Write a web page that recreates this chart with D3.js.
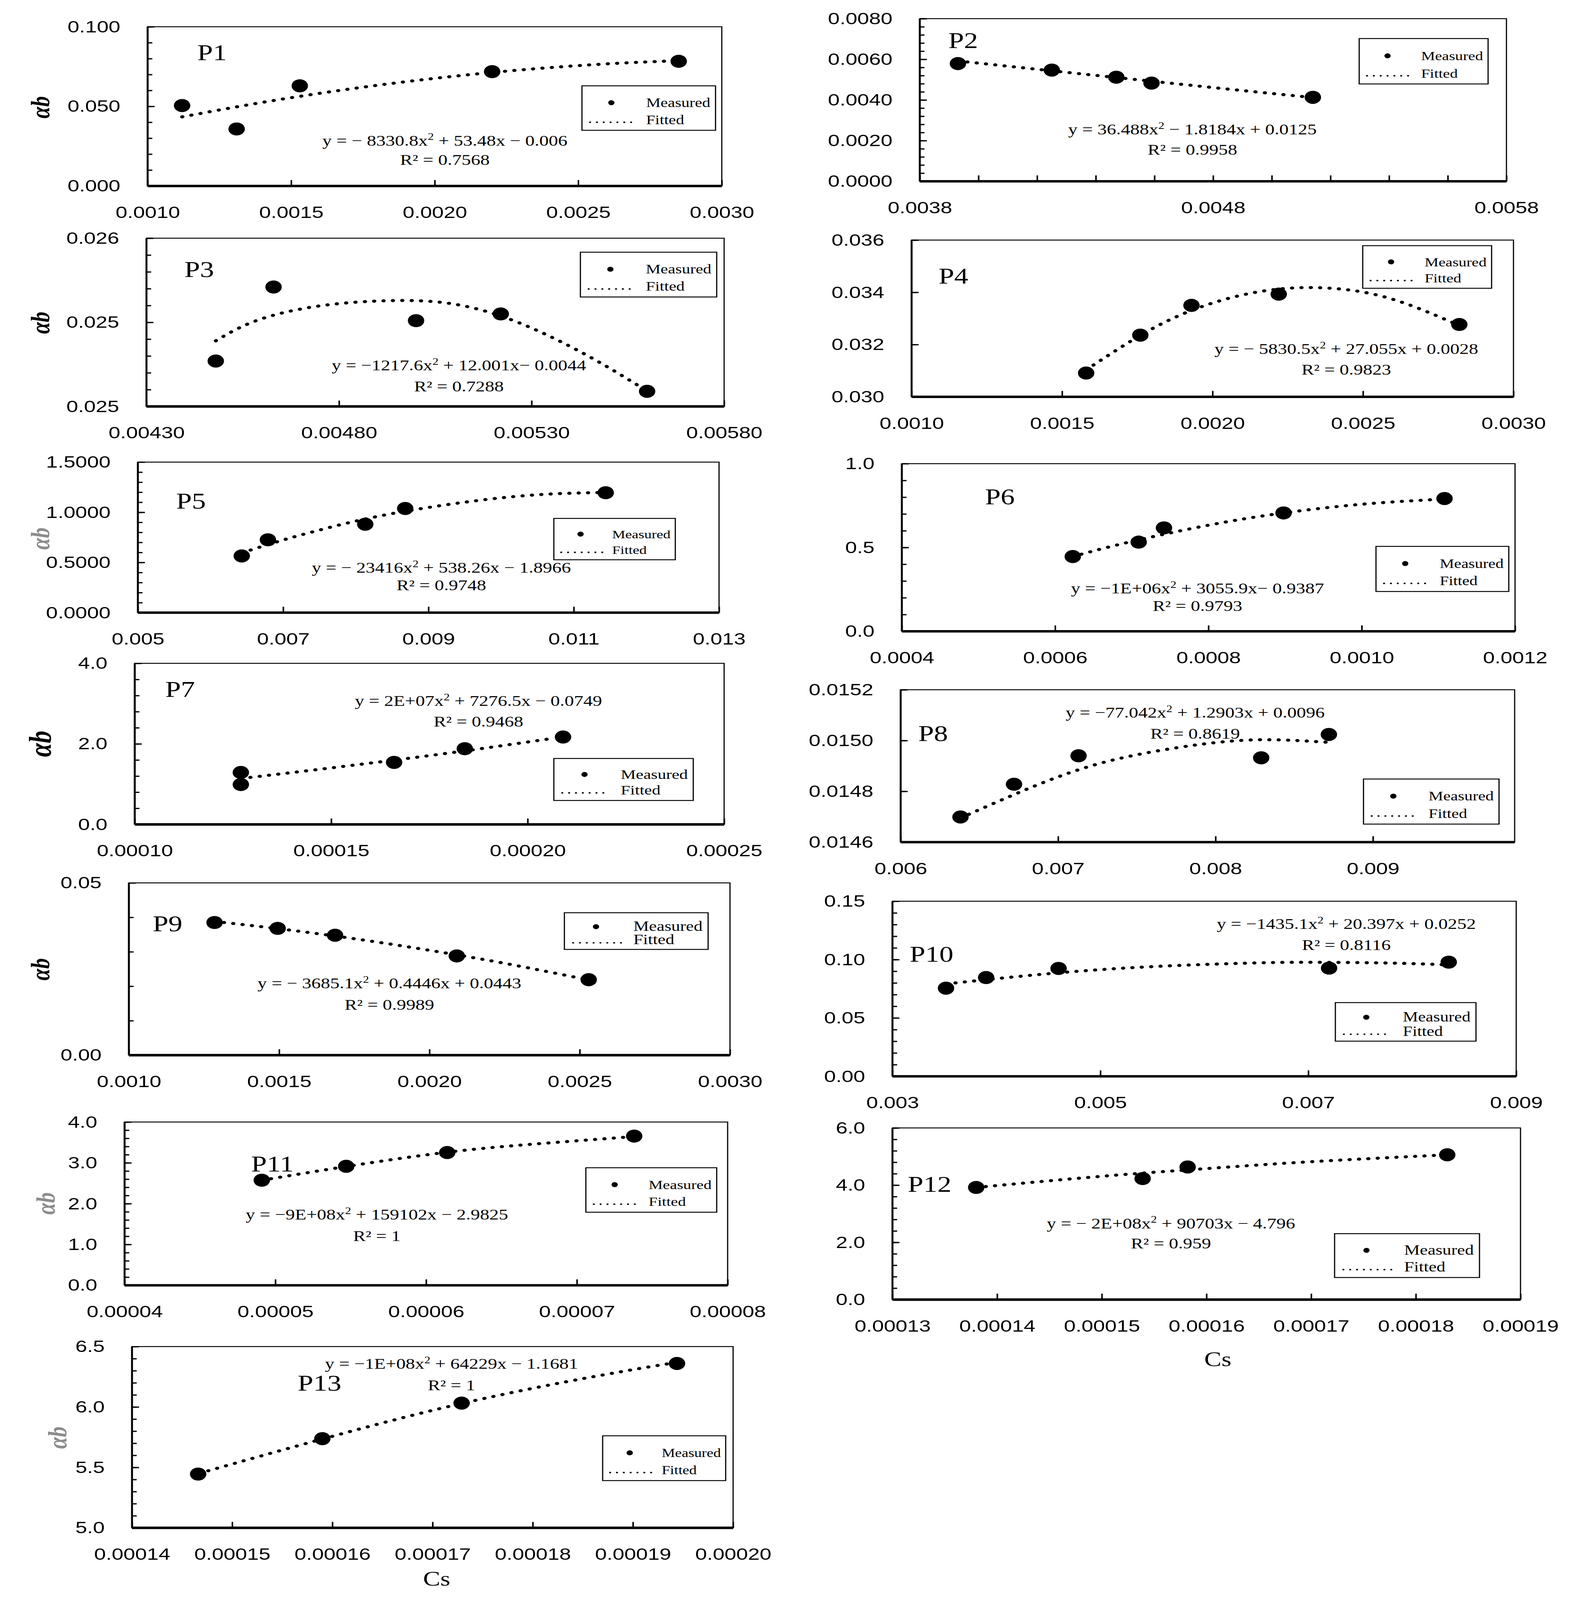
<!DOCTYPE html>
<html>
<head>
<meta charset="utf-8">
<script src="https://cdn.jsdelivr.net/npm/d3@7"></script>
<style>
  html, body { margin: 0; padding: 0; background: #fff; overflow: hidden; }
  svg { display: block; }
</style>
</head>
<body>
<div id="chart"></div>
<script>
'use strict';

// panel names, in reading order
var panelNames = ['P1', 'P2', 'P3', 'P4', 'P5', 'P6', 'P7', 'P8', 'P9', 'P10', 'P11', 'P12', 'P13'];

// measured points (Cs, alpha b)
var measuredX = [
  [0.00112, 0.00131, 0.00153, 0.00220, 0.00285],
  [0.00393, 0.00425, 0.00447, 0.00459, 0.00514],
  [0.00448, 0.00463, 0.00500, 0.00522, 0.00560],
  [0.00158, 0.00176, 0.00193, 0.00222, 0.00282],
  [0.00643, 0.00679, 0.00813, 0.00868, 0.01144],
  [0.000623, 0.000709, 0.000742, 0.000898, 0.001108],
  [0.000127, 0.000127, 0.000166, 0.000184, 0.000209],
  [0.00638, 0.00672, 0.00713, 0.00829, 0.00872],
  [0.001285, 0.001495, 0.001686, 0.002091, 0.00253],
  [0.003515, 0.003901, 0.004598, 0.0072, 0.008351],
  [0.0000491, 0.0000547, 0.0000614, 0.0000738],
  [0.000138, 0.0001539, 0.0001582, 0.000183],
  [0.0001466, 0.000159, 0.0001729, 0.0001944]
];
var measuredY = [
  [0.0505, 0.0358, 0.0629, 0.0718, 0.0783],
  [0.00579, 0.00547, 0.00512, 0.00483, 0.00413],
  [0.02487, 0.02531, 0.02511, 0.02515, 0.02469],
  [0.03091, 0.03236, 0.03350, 0.03393, 0.03277],
  [0.565, 0.726, 0.881, 1.038, 1.195],
  [0.446, 0.532, 0.617, 0.706, 0.792],
  [1.29, 0.99, 1.54, 1.88, 2.17],
  [0.014699, 0.014828, 0.01494, 0.014932, 0.015024],
  [0.0385, 0.0368, 0.0348, 0.0288, 0.0219],
  [0.0755, 0.0846, 0.0924, 0.0927, 0.0978],
  [2.574, 2.915, 3.252, 3.655],
  [3.92, 4.23, 4.634, 5.061],
  [5.445, 5.738, 6.032, 6.36]
];

// fitted (trend) curves
var fittedX = [
  [0.00112, 0.0014, 0.0017, 0.0020, 0.0023, 0.0026, 0.00285],
  [0.00393, 0.0042, 0.0045, 0.0048, 0.00514],
  [0.00448, 0.00459, 0.004757, 0.004937, 0.005079, 0.005208, 0.005336, 0.005465, 0.00558],
  [0.00158, 0.0018, 0.0020, 0.0022, 0.0024, 0.0026, 0.00282],
  [0.00643, 0.0070, 0.0075, 0.0085, 0.0100, 0.0110, 0.01144],
  [0.000634, 0.0007, 0.0008, 0.000898, 0.001, 0.001096],
  [0.0001294, 0.000148, 0.0001663, 0.0001843, 0.0002062],
  [0.00638, 0.0070, 0.0075, 0.0080, 0.00837, 0.00872],
  [0.001285, 0.0015, 0.0018, 0.0021, 0.0023, 0.00253],
  [0.003515, 0.0045, 0.0055, 0.0065, 0.0071, 0.0078, 0.008351],
  [0.0000497, 0.0000547, 0.0000614, 0.0000675, 0.0000733],
  [0.000138, 0.00015, 0.00016, 0.00017, 0.000183],
  [0.0001476, 0.000159, 0.0001729, 0.0001862, 0.0001937]
];
var fittedY = [
  [0.0434, 0.0525, 0.0608, 0.0676, 0.0729, 0.0767, 0.0787],
  [0.00592, 0.00551, 0.00506, 0.00461, 0.00412],
  [0.02499, 0.025114, 0.0252, 0.025229, 0.025215, 0.025147, 0.025029, 0.024877, 0.02472],
  [0.03103, 0.03261, 0.03359, 0.03410, 0.03415, 0.03373, 0.03273],
  [0.596, 0.724, 0.823, 0.987, 1.144, 1.191, 1.197],
  [0.46, 0.536, 0.633, 0.706, 0.758, 0.786],
  [1.167, 1.38, 1.60, 1.83, 2.133],
  [0.014695, 0.014857, 0.014944, 0.014992, 0.015003, 0.014993],
  [0.03879, 0.03668, 0.03316, 0.02898, 0.02583, 0.02184],
  [0.07916, 0.08793, 0.09397, 0.09715, 0.09768, 0.09699, 0.09545],
  [2.61, 2.91, 3.26, 3.47, 3.63],
  [3.92, 4.31, 4.58, 4.82, 5.06],
  [5.472, 5.735, 6.029, 6.253, 6.36]
];

// trendline equations: text before and after the squared term
var equationParts = [
  ['y = \u2212 8330.8x', ' + 53.48x \u2212 0.006'],
  ['y = 36.488x', ' \u2212 1.8184x + 0.0125'],
  ['y = \u22121217.6x', ' + 12.001x\u2212 0.0044'],
  ['y = \u2212 5830.5x', ' + 27.055x + 0.0028'],
  ['y = \u2212 23416x', ' + 538.26x \u2212 1.8966'],
  ['y = \u22121E+06x', ' + 3055.9x\u2212 0.9387'],
  ['y = 2E+07x', ' + 7276.5x \u2212 0.0749'],
  ['y = \u221277.042x', ' + 1.2903x + 0.0096'],
  ['y = \u2212 3685.1x', ' + 0.4446x + 0.0443'],
  ['y = \u22121435.1x', ' + 20.397x + 0.0252'],
  ['y = \u22129E+08x', ' + 159102x \u2212 2.9825'],
  ['y = \u2212 2E+08x', ' + 90703x \u2212 4.796'],
  ['y = \u22121E+08x', ' + 64229x \u2212 1.1681']
];
var r2Labels = ['R\u00b2 = 0.7568', 'R\u00b2 = 0.9958', 'R\u00b2 = 0.7288', 'R\u00b2 = 0.9823', 'R\u00b2 = 0.9748',
  'R\u00b2 = 0.9793', 'R\u00b2 = 0.9468', 'R\u00b2 = 0.8619', 'R\u00b2 = 0.9989', 'R\u00b2 = 0.8116',
  'R\u00b2 = 1', 'R\u00b2 = 0.959', 'R\u00b2 = 1'];

// labelled ticks
var xLabelValues = [
  [0.0010, 0.0015, 0.0020, 0.0025, 0.0030],
  [0.0038, 0.0048, 0.0058],
  [0.0043, 0.0048, 0.0053, 0.0058],
  [0.0010, 0.0015, 0.0020, 0.0025, 0.0030],
  [0.005, 0.007, 0.009, 0.011, 0.013],
  [0.0004, 0.0006, 0.0008, 0.0010, 0.0012],
  [0.00010, 0.00015, 0.00020, 0.00025],
  [0.006, 0.007, 0.008, 0.009],
  [0.0010, 0.0015, 0.0020, 0.0025, 0.0030],
  [0.003, 0.005, 0.007, 0.009],
  [0.00004, 0.00005, 0.00006, 0.00007, 0.00008],
  [0.00013, 0.00014, 0.00015, 0.00016, 0.00017, 0.00018, 0.00019],
  [0.00014, 0.00015, 0.00016, 0.00017, 0.00018, 0.00019, 0.00020]
];
var xLabels = [
  ['0.0010', '0.0015', '0.0020', '0.0025', '0.0030'],
  ['0.0038', '0.0048', '0.0058'],
  ['0.00430', '0.00480', '0.00530', '0.00580'],
  ['0.0010', '0.0015', '0.0020', '0.0025', '0.0030'],
  ['0.005', '0.007', '0.009', '0.011', '0.013'],
  ['0.0004', '0.0006', '0.0008', '0.0010', '0.0012'],
  ['0.00010', '0.00015', '0.00020', '0.00025'],
  ['0.006', '0.007', '0.008', '0.009'],
  ['0.0010', '0.0015', '0.0020', '0.0025', '0.0030'],
  ['0.003', '0.005', '0.007', '0.009'],
  ['0.00004', '0.00005', '0.00006', '0.00007', '0.00008'],
  ['0.00013', '0.00014', '0.00015', '0.00016', '0.00017', '0.00018', '0.00019'],
  ['0.00014', '0.00015', '0.00016', '0.00017', '0.00018', '0.00019', '0.00020']
];
var yLabelValues = [
  [0, 0.05, 0.1],
  [0, 0.002, 0.004, 0.006, 0.008],
  [0.0246, 0.0251, 0.0256],
  [0.030, 0.032, 0.034, 0.036],
  [0, 0.5, 1.0, 1.5],
  [0, 0.5, 1.0],
  [0, 2, 4],
  [0.0146, 0.0148, 0.0150, 0.0152],
  [0, 0.05],
  [0, 0.05, 0.10, 0.15],
  [0, 1, 2, 3, 4],
  [0, 2, 4, 6],
  [5.0, 5.5, 6.0, 6.5]
];
var yLabels = [
  ['0.000', '0.050', '0.100'],
  ['0.0000', '0.0020', '0.0040', '0.0060', '0.0080'],
  ['0.025', '0.025', '0.026'],
  ['0.030', '0.032', '0.034', '0.036'],
  ['0.0000', '0.5000', '1.0000', '1.5000'],
  ['0.0', '0.5', '1.0'],
  ['0.0', '2.0', '4.0'],
  ['0.0146', '0.0148', '0.0150', '0.0152'],
  ['0.00', '0.05'],
  ['0.00', '0.05', '0.10', '0.15'],
  ['0.0', '1.0', '2.0', '3.0', '4.0'],
  ['0.0', '2.0', '4.0', '6.0'],
  ['5.0', '5.5', '6.0', '6.5']
];

// layout: frame [left, top, right, bottom], domains, tick-mark steps, legend box,
// title anchor, equation anchor [cx, baseline, r2 baseline], y title [cx, cy, colour, size]
var layout = [
  {frame: [378, 86, 1848, 598], xDom: [0.001, 0.003], yDom: [0, 0.1], xStep: 0.0005, yStep: 0.01,
    legend: [1490, 276, 342, 143], title: [505, 193], eq: [1139, 468, 530], yTitle: [102, 345, '#000', 68]},
  {frame: [2355, 60, 3857, 583], xDom: [0.0038, 0.0058], yDom: [0, 0.008], xStep: 0.0002, yStep: 0.0004,
    legend: [3480, 124, 330, 146], title: [2428, 155], eq: [3053, 432, 498]},
  {frame: [375, 766, 1854, 1307], xDom: [0.0043, 0.0058], yDom: [0.0246, 0.0256], xStep: 0.0005, yStep: 0.0001,
    legend: [1486, 811, 349, 144], title: [472, 891], eq: [1175, 1191, 1258], yTitle: [102, 1038, '#000', 68]},
  {frame: [2334, 772, 3875, 1276], xDom: [0.001, 0.003], yDom: [0.030, 0.036], xStep: 0.0005, yStep: 0.002,
    legend: [3489, 790, 330, 137], title: [2403, 912], eq: [3447, 1138, 1204]},
  {frame: [353, 1486, 1841, 1970], xDom: [0.005, 0.013], yDom: [0, 1.5], xStep: 0.002, yStep: 0.1,
    legend: [1418, 1667, 311, 133], title: [451, 1636], eq: [1130, 1842, 1898], yTitle: [102, 1732, '#8c8c8c', 68]},
  {frame: [2309, 1491, 3879, 2030], xDom: [0.0004, 0.0012], yDom: [0, 1], xStep: 0.0002, yStep: 0.1,
    legend: [3523, 1757, 340, 145], title: [2522, 1622], eq: [3066, 1908, 1965]},
  {frame: [345, 2133, 1854, 2651], xDom: [0.0001, 0.00025], yDom: [0, 4], xStep: 0.00005, yStep: 0.4,
    legend: [1418, 2439, 357, 135], title: [423, 2241], eq: [1225, 2270, 2336], yTitle: [102, 2392, '#000', 80]},
  {frame: [2306, 2218, 3878, 2708], xDom: [0.006, 0.0099], yDom: [0.0146, 0.0152], xStep: 0.001, yStep: 0.0002,
    legend: [3491, 2505, 347, 145], title: [2351, 2383], eq: [3060, 2308, 2375]},
  {frame: [330, 2839, 1869, 3393], xDom: [0.001, 0.003], yDom: [0, 0.05], xStep: 0.0005, yStep: 0.01,
    legend: [1445, 2935, 368, 118], title: [391, 2995], eq: [997, 3178, 3247], yTitle: [102, 3117, '#000', 68]},
  {frame: [2285, 2898, 3882, 3461], xDom: [0.003, 0.009], yDom: [0, 0.15], xStep: 0.002, yStep: 0.01,
    legend: [3419, 3224, 360, 124], title: [2329, 3093], eq: [3447, 2987, 3055]},
  {frame: [319, 3608, 1863, 4133], xDom: [0.00004, 0.00008], yDom: [0, 4], xStep: 0.00001, yStep: 0.2,
    legend: [1500, 3755, 335, 143], title: [643, 3767], eq: [965, 3922, 3991], yTitle: [116, 3870, '#8c8c8c', 68]},
  {frame: [2285, 3627, 3893, 4179], xDom: [0.00013, 0.00019], yDom: [0, 6], xStep: 0.00001, yStep: 0.4,
    legend: [3417, 3967, 371, 141], title: [2324, 3832], eq: [2998, 3950, 4015], cs: [3118, 4392]},
  {frame: [338, 4330, 1877, 4913], xDom: [0.00014, 0.0002], yDom: [5, 6.5], xStep: 0.00001, yStep: 0.1,
    legend: [1543, 4617, 315, 144], title: [762, 4472], eq: [1156, 4402, 4471], yTitle: [146, 4623, '#8c8c8c', 68],
    cs: [1118, 5099]}
];

var W = 4053, H = 5145;
var serif = '"Liberation Serif", "Times New Roman", serif';
var sans = '"Liberation Sans", Arial, sans-serif';

// the drawing is laid out on a 4053 x 5145 canvas and fills the whole window
var svg = d3.select('#chart').append('svg')
  .attr('viewBox', '0 0 ' + W + ' ' + H)
  .attr('preserveAspectRatio', 'none')
  .style('width', '100vw').style('height', '100vh')
  .style('background', '#fff');

function marks(dom, step) {
  var n = Math.floor((dom[1] - dom[0]) / step + 1e-6);
  return d3.range(n + 1).map(function(k) { return dom[0] + k * step; });
}

panelNames.forEach(function(name, i) {
  var lay = layout[i];
  var f = lay.frame;
  var x = d3.scaleLinear().domain(lay.xDom).range([f[0], f[2]]);
  var y = d3.scaleLinear().domain(lay.yDom).range([f[3], f[1]]);
  var g = svg.append('g').attr('class', 'panel');

  g.append('rect')
    .attr('x', f[0]).attr('y', f[1])
    .attr('width', f[2] - f[0]).attr('height', f[3] - f[1])
    .attr('fill', 'none').attr('stroke', '#000').attr('stroke-width', 3);

  // tick marks (inside)
  var yMinor = g.append('g').attr('transform', 'translate(' + f[0] + ',0)')
    .call(d3.axisLeft(y).tickValues(marks(lay.yDom, lay.yStep)).tickSize(-12).tickFormat(''));
  var xMinor = g.append('g').attr('transform', 'translate(0,' + f[3] + ')')
    .call(d3.axisBottom(x).tickValues(marks(lay.xDom, lay.xStep)).tickSize(-19).tickFormat(''));

  // labelled ticks
  var yAx = g.append('g').attr('transform', 'translate(' + f[0] + ',0)')
    .call(d3.axisLeft(y).tickValues(yLabelValues[i]).tickSize(-18).tickPadding(70)
      .tickFormat(function(d, k) { return yLabels[i][k]; }));
  var xAx = g.append('g').attr('transform', 'translate(0,' + f[3] + ')')
    .call(d3.axisBottom(x).tickValues(xLabelValues[i]).tickSize(0)
      .tickFormat(function(d, k) { return xLabels[i][k]; }));
  xAx.selectAll('text').attr('y', 84).attr('dy', '0.35em');

  [yMinor, xMinor, yAx, xAx].forEach(function(a) {
    a.select('.domain').remove();
    a.selectAll('line').attr('stroke', '#000').attr('stroke-width', 4);
    a.selectAll('text').attr('font-family', sans).attr('font-size', 54).attr('fill', '#000');
  });

  // axis lines
  g.append('line').attr('x1', f[0]).attr('x2', f[0]).attr('y1', f[1]).attr('y2', f[3])
    .attr('stroke', '#000').attr('stroke-width', 5);
  g.append('line').attr('x1', f[0]).attr('x2', f[2]).attr('y1', f[3]).attr('y2', f[3])
    .attr('stroke', '#000').attr('stroke-width', 8);

  // fitted curve
  var line = d3.line()
    .x(function(d) { return x(d[0]); })
    .y(function(d) { return y(d[1]); })
    .curve(d3.curveNatural);
  g.append('path')
    .datum(d3.zip(fittedX[i], fittedY[i]))
    .attr('d', line)
    .attr('fill', 'none').attr('stroke', '#000').attr('stroke-width', 10)
    .attr('stroke-linecap', 'round').attr('stroke-dasharray', '1 23');

  // measured points
  g.selectAll('circle.pt')
    .data(d3.zip(measuredX[i], measuredY[i]))
    .join('circle').attr('class', 'pt')
    .attr('cx', function(d) { return x(d[0]); })
    .attr('cy', function(d) { return y(d[1]); })
    .attr('r', 21).attr('fill', '#000');

  // panel title
  g.append('text').attr('x', lay.title[0]).attr('y', lay.title[1])
    .attr('font-family', serif).attr('font-size', 72).text(name);

  // equation and R2
  var eq = g.append('text').attr('x', lay.eq[0]).attr('y', lay.eq[1])
    .attr('text-anchor', 'middle').attr('font-family', serif).attr('font-size', 48);
  eq.append('tspan').text(equationParts[i][0]);
  eq.append('tspan').attr('dy', -18).attr('font-size', 31).text('2');
  eq.append('tspan').attr('dy', 18).text(equationParts[i][1]);
  g.append('text').attr('x', lay.eq[0]).attr('y', lay.eq[2])
    .attr('text-anchor', 'middle').attr('font-family', serif).attr('font-size', 48)
    .text(r2Labels[i]);

  // legend
  var lg = lay.legend;
  var fs = lg[2] * 0.122;
  var tx = lg[0] + 0.48 * lg[2];
  g.append('rect').attr('x', lg[0]).attr('y', lg[1]).attr('width', lg[2]).attr('height', lg[3])
    .attr('fill', '#fff').attr('stroke', '#000').attr('stroke-width', 3);
  g.append('circle').attr('cx', lg[0] + 0.22 * lg[2]).attr('cy', lg[1] + 0.38 * lg[3]).attr('r', 8).attr('fill', '#000');
  g.append('text').attr('x', tx).attr('y', lg[1] + 0.38 * lg[3] + 14)
    .attr('font-family', serif).attr('font-size', fs).text('Measured');
  g.append('line').attr('x1', lg[0] + 0.06 * lg[2]).attr('x2', lg[0] + 0.40 * lg[2])
    .attr('y1', lg[1] + 0.82 * lg[3]).attr('y2', lg[1] + 0.82 * lg[3])
    .attr('stroke', '#000').attr('stroke-width', 5).attr('stroke-linecap', 'round')
    .attr('stroke-dasharray', '0.5 17');
  g.append('text').attr('x', tx).attr('y', lg[1] + 0.86 * lg[3])
    .attr('font-family', serif).attr('font-size', fs).text('Fitted');

  // y axis title
  if (lay.yTitle) {
    g.append('text')
      .attr('transform', 'translate(' + lay.yTitle[0] + ',' + lay.yTitle[1] + ') rotate(-90)')
      .attr('text-anchor', 'middle').attr('dy', '0.35em')
      .attr('font-family', serif).attr('font-size', lay.yTitle[3])
      .attr('font-weight', 'bold').attr('font-style', 'italic')
      .attr('fill', lay.yTitle[2]).text('\u03b1b');
  }

  // x axis title
  if (lay.cs) {
    g.append('text').attr('x', lay.cs[0]).attr('y', lay.cs[1])
      .attr('text-anchor', 'middle').attr('font-family', serif).attr('font-size', 66).text('Cs');
  }
});
</script>
</body>
</html>
